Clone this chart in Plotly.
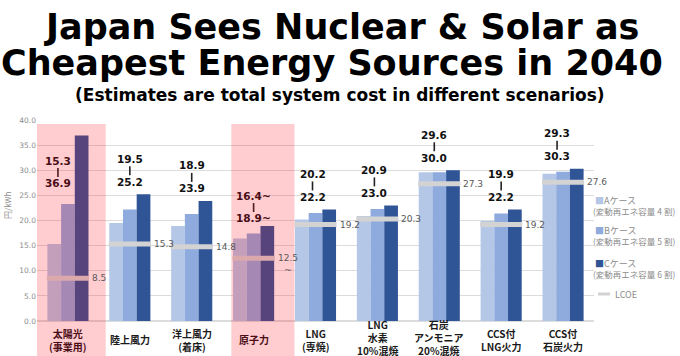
import plotly.graph_objects as go

categories = ["太陽光<br>(事業用)", "陸上風力", "洋上風力<br>(着床)", "原子力", "LNG<br>(専焼)",
              "LNG<br>水素<br>10%混焼", "石炭<br>アンモニア<br>20%混焼", "CCS付<br>LNG火力", "CCS付<br>石炭火力"]
case_a = [15.3, 19.5, 18.9, 16.4, 20.2, 20.9, 29.6, 19.9, 29.3]
case_b = [23.3, 22.2, 21.3, 17.4, 21.5, 22.3, 29.6, 21.4, 29.7]
case_c = [36.9, 25.2, 23.9, 18.9, 22.2, 23.0, 30.0, 22.2, 30.3]
lcoe = [8.5, 15.3, 14.8, 12.5, 19.2, 20.3, 27.3, 19.2, 27.6]
suffix = ["", "", "", "~", "", "", "", "", ""]
lcoe_suffix = ["", "", "", "<br>~", "", "", "", "", ""]
series_names = ["Aケース<br>(変動再エネ容量 4 割)", "Bケース<br>(変動再エネ容量 5 割)", "Cケース<br>(変動再エネ容量 6 割)"]
y_ticks = [0, 5, 10, 15, 20, 25, 30, 35, 40]
highlight = {0: "Solar", 3: "Nuclear"}

col_a, col_b, col_c = "#b4c7e7", "#8faadc", "#2f5597"
x = list(range(len(categories)))

fig = go.Figure()
for vals, col, nm in [(case_a, col_a, series_names[0]), (case_b, col_b, series_names[1]), (case_c, col_c, series_names[2])]:
    fig.add_trace(go.Bar(x=x, y=vals, marker=dict(color=col, line=dict(width=0)), name=nm, showlegend=False))

lx, ly = [], []
hw = 0.34
for i, v in enumerate(lcoe):
    lx += [i - hw, i + hw, None]
    ly += [v, v, None]
fig.add_trace(go.Scatter(x=lx, y=ly, mode="lines", line=dict(color="#d3d3d3", width=5), showlegend=False, hoverinfo="skip"))

ann = []
shapes = []
maroon = "#4a0d16"
BOLD = "DejaVu Sans"
xshift = {0: -10, 6: -5, 8: -6, 4: -3, 5: -3}
for i in x:
    col = maroon if i in highlight else "#111111"
    if i == 0:
        base, s = case_b[i], [21, 32, 43]
    elif i == 3:
        base, s = case_c[i], [8, 19, 30]
    else:
        base, s = case_c[i], [12.5, 24, 35.5]
    xs = xshift.get(i, 0)
    for txt, sh in [(f"{case_c[i]:.1f}{suffix[i]}", s[0]), (f"{case_a[i]:.1f}{suffix[i]}", s[2])]:
        ann.append(dict(x=i, y=base, xref="x", yref="y", text=f"<b>{txt}</b>", showarrow=False,
                        yanchor="middle", xanchor="center", yshift=sh, xshift=xs,
                        font=dict(family=BOLD, size=10.5, color=col)))
    # connector bar between the two values
    shapes.append(dict(type="line", xref="x", yref="y", xsizemode="pixel", ysizemode="pixel",
                       xanchor=i, yanchor=base, x0=xs, x1=xs, y0=s[1] - 5, y1=s[1] + 4,
                       line=dict(color="#222222", width=1.6), layer="above"))
    ann.append(dict(x=i + hw, y=lcoe[i], xref="x", yref="y", text=f"{lcoe[i]:.1f}{lcoe_suffix[i]}",
                    showarrow=False, xanchor="left", yanchor="top" if lcoe_suffix[i] else "middle",
                    yshift=7 if lcoe_suffix[i] else 0, xshift=1,
                    font=dict(family="DejaVu Sans", size=9, color="#595959")))
    nlines = categories[i].count("<br>") + 1
    ann.append(dict(x=i, y=-0.0945, xref="x", yref="paper", text=f"<b>{categories[i]}</b>", showarrow=False,
                    xanchor="center", yanchor="middle", yshift=2 if nlines == 3 else 0,
                    font=dict(family="Noto Sans CJK JP", size=10, color=maroon if i in highlight else "#1a1a1a")))

ann.append(dict(x=-0.04, y=40.9, xref="x", yref="y", text="<b>Solar</b>", showarrow=False,
                xanchor="center", yanchor="middle", font=dict(family=BOLD, size=11, color="#111111")))
ann.append(dict(x=3.15, y=40.9, xref="x", yref="y", text="<b>Nuclear</b>", showarrow=False,
                xanchor="center", yanchor="middle", font=dict(family=BOLD, size=11, color="#111111")))

def py(px):
    return (321 - px) / 201.0
def px_(p):
    return (p - 37) / 557.0

ann.append(dict(x=px_(341), y=py(27), xref="paper", yref="paper", text="<b>Japan Sees Nuclear & Solar as</b>",
                showarrow=False, xanchor="center", yanchor="middle", font=dict(family=BOLD, size=35, color="black")))
ann.append(dict(x=px_(332), y=py(63), xref="paper", yref="paper", text="<b>Cheapest Energy Sources in 2040</b>",
                showarrow=False, xanchor="center", yanchor="middle", font=dict(family=BOLD, size=35, color="black")))
ann.append(dict(x=px_(340), y=py(95), xref="paper", yref="paper",
                text="<b>(Estimates are total system cost in different scenarios)</b>",
                showarrow=False, xanchor="center", yanchor="middle", font=dict(family=BOLD, size=17, color="black")))

ann.append(dict(x=px_(7), y=py(205), xref="paper", yref="paper", text="円/kWh", textangle=-90,
                showarrow=False, xanchor="center", yanchor="middle",
                font=dict(family="Noto Sans CJK JP", size=8, color="#8c8c8c")))

legend_rows = [(col_a, series_names[0], 200), (col_b, series_names[1], 230), (col_c, series_names[2], 263)]
for col, nm, ypx in legend_rows:
    top, bottom = nm.split("<br>")
    ann.append(dict(x=px_(593), y=py(ypx), xref="paper", yref="paper",
                    text=f"<span style='color:{col}'>■</span>{top}", showarrow=False, xanchor="left", yanchor="middle",
                    font=dict(family="Noto Sans CJK JP", size=9, color="#8c8c8c")))
    ann.append(dict(x=px_(591), y=py(ypx + 11), xref="paper", yref="paper",
                    text=bottom, showarrow=False, xanchor="left", yanchor="middle",
                    font=dict(family="Noto Sans CJK JP", size=8.5, color="#8c8c8c")))
ann.append(dict(x=px_(613), y=py(294), xref="paper", yref="paper", text="LCOE", showarrow=False,
                xanchor="left", yanchor="middle", font=dict(family="Noto Sans CJK JP", size=9, color="#8c8c8c")))

shapes.append(dict(type="line", xref="paper", yref="paper", x0=px_(598), x1=px_(610),
                   y0=py(294), y1=py(294), line=dict(color="#d3d3d3", width=3)))
pink = {0: (-0.5, 0.61), 3: (2.64, 3.66)}
for i, (a, b) in pink.items():
    shapes.append(dict(type="rect", xref="x", yref="paper", x0=a, x1=b, y0=py(360), y1=py(124),
                       fillcolor="rgba(255,0,20,0.2)", line=dict(width=0), layer="above"))

fig.update_layout(
    width=680, height=356,
    margin=dict(l=37, r=86, t=120, b=35),
    paper_bgcolor="white", plot_bgcolor="white",
    barmode="group", bargap=0.336, bargroupgap=0,
    showlegend=False,
    xaxis=dict(range=[-0.5, 8.5], showticklabels=False, showgrid=False, zeroline=False, ticks=""),
    yaxis=dict(range=[0, 40], tickvals=y_ticks, tickformat=".1f", showgrid=True, gridcolor="#dcdcdc",
               gridwidth=1, zeroline=True, zerolinecolor="#dcdcdc", ticks="",
               tickfont=dict(family="DejaVu Sans", size=7.5, color="#8c8c8c")),
    annotations=ann, shapes=shapes,
)
fig.write_html("out.html", config={"displayModeBar": False},
               post_script="document.body.style.margin='0';document.body.style.overflow='hidden';")
